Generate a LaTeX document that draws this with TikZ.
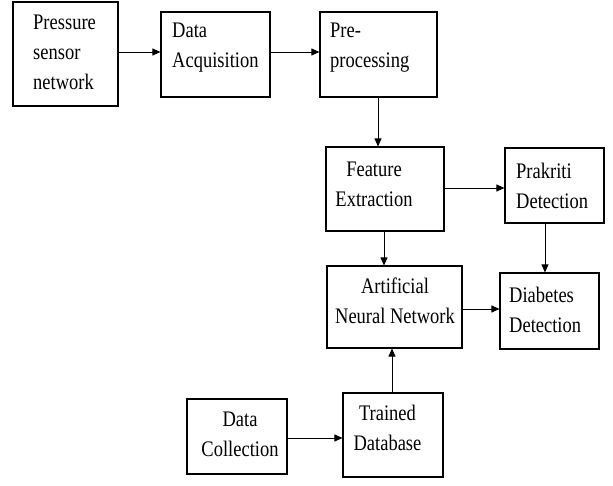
\documentclass[tikz,border=0pt]{standalone}
\usepackage{fontspec}
\setmainfont{Liberation Serif}
\usetikzlibrary{positioning}
\usetikzlibrary{arrows.meta}

\begin{document}
\begin{tikzpicture}[x=1pt, y=-1pt, >={Triangle[length=8pt,width=7pt]},
	blk/.style={draw, line width=1.1pt, rectangle, inner sep=0pt},
	lbl/.style={inner sep=0pt, font=\fontsize{18.5}{25}\selectfont, yscale=1.2},
	con/.style={->, line width=0.9pt}]
	    		\useasboundingbox (0,0) rectangle (613,485);
	    		% blocks
	    		\node[blk, minimum width=105, minimum height=104] (pss) at (65.5,54) {};
	    		\node[blk, minimum width=109, minimum height=85] (acq) at (215.5,54.5) {};
	    		\node[blk, minimum width=117, minimum height=85] (pre) at (378.5,54.5) {};
	    		\node[blk, minimum width=118, minimum height=84] (fe) at (385,189) {};
	    		\node[blk, minimum width=99, minimum height=75] (pk) at (554.5,185.5) {};
	    		\node[blk, minimum width=135, minimum height=82] (ann) at (394.5,307) {};
	    		\node[blk, minimum width=99, minimum height=76] (dd) at (549.5,311) {};
	    		\node[blk, minimum width=100, minimum height=75] (dc) at (237,436.5) {};
	    		\node[blk, minimum width=100, minimum height=84] (td) at (393,435) {};
	    		% texts
	    		\node[lbl, anchor=north west, align=left] (pss-t) at (33,15) {Pressure\\sensor\\network};
	    		\node[lbl, anchor=north west, align=left] (acq-t) at (172,23) {Data\\Acquisition};
	    		\node[lbl, anchor=north west, align=left] (pre-t) at (330,23) {Pre-\\processing};
	    		\node[lbl, anchor=north, align=center] (fe-t) at (374,162) {Feature\\Extraction};
	    		\node[lbl, anchor=north west, align=left] (pk-t) at (516,163) {Prakriti\\Detection};
	    		\node[lbl, anchor=north, align=center] (ann-t) at (395,278) {Artificial\\Neural Network};
	    		\node[lbl, anchor=north west, align=left] (dd-t) at (509,287) {Diabetes\\Detection};
	    		\node[lbl, anchor=north, align=center] (dc-t) at (240,412) {Data\\Collection};
	    		\node[lbl, anchor=north, align=center] (td-t) at (387.5,405) {Trained\\Database};
	    		% arrows
	    		\draw[con] (pss.east |- 0,52) -- (acq.west |- 0,52);
	    		\draw[con] (acq.east |- 0,52) -- (pre.west |- 0,52);
	    		\draw[con] (pre.south -| 378,0) -- (fe.north -| 378,0);
	    		\draw[con] (fe.east |- 0,188) -- (pk.west |- 0,188);
	    		\draw[con] (fe.south -| 384,0) -- (ann.north -| 384,0);
	    		\draw[con] (pk.south -| 545,0) -- (dd.north -| 545,0);
	    		\draw[con] (ann.east |- 0,309) -- (dd.west |- 0,309);
	    		\draw[con] (dc.east |- 0,438) -- (td.west |- 0,438);
	    		\draw[con] (td.north -| 392,0) -- (ann.south -| 392,0);
\end{tikzpicture}
\end{document}
